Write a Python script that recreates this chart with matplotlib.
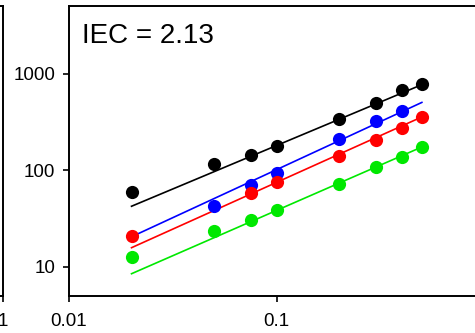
import numpy as np
import matplotlib
matplotlib.use("Agg")
import matplotlib.pyplot as plt

plt.rcParams["font.family"] = ["Liberation Sans", "DejaVu Sans"]

# concentrations (x) and responses per series
x_all = [0.02, 0.05, 0.075, 0.1, 0.2, 0.3, 0.4, 0.5]
black_x = x_all
black_y = [60, 117, 145, 177, 337, 492, 677, 787]
blue_x = [0.05, 0.075, 0.1, 0.2, 0.3, 0.4]
blue_y = [43, 71, 94, 212, 321, 406]
red_x = [0.02, 0.075, 0.1, 0.2, 0.3, 0.4, 0.5]
red_y = [20.7, 58, 75, 139, 207, 274, 356]
green_x = x_all
green_y = [12.7, 23.3, 30.3, 38.5, 72.6, 107, 137, 174]

# fitted power-law lines: value at x = 0.02 and x = 0.5
fit_x = [0.02, 0.5]
fit_black = [42.4, 768]
fit_blue = [20.5, 503]
fit_red = [15.8, 356]
fit_green = [8.5, 174]

x_ticks = [0.01, 0.1, 1]
x_ticklabels = ["0.01", "0.1", ""]   # "1" falls past the cropped right edge
y_ticks = [10, 100, 1000]
y_ticklabels = ["10", "100", "1000"]

series = [
    ("black", black_x, black_y, fit_black),
    ("#0000ff", blue_x, blue_y, fit_blue),
    ("#ff0000", red_x, red_y, fit_red),
    ("#00e800", green_x, green_y, fit_green),
]

fig = plt.figure(figsize=(4.75, 3.33), dpi=100)

W, H = 475.0, 333.0
ax_bottom = (H - 296) / H
ax_height = 290 / H


def style(ax):
    ax.set_xscale("log")
    ax.set_yscale("log")
    ax.set_xlim(0.01, 1)
    ax.set_ylim(5, 5000)
    for s in ax.spines.values():
        s.set_linewidth(1.4)
    ax.tick_params(which="major", length=4, width=1.2, labelsize=13.5)
    ax.tick_params(which="minor", length=0)
    ax.tick_params(axis="x", pad=8)
    ax.tick_params(axis="y", pad=6)


# neighbouring panel, only its right edge (and its "1" label) shows
axl = fig.add_axes([2.7 / W - 0.85, ax_bottom, 0.85, ax_height])
style(axl)
axl.set_xticks(x_ticks)
axl.set_xticklabels(["", "", "1"])
axl.set_yticks(y_ticks)
axl.set_yticklabels([])

ax = fig.add_axes([69 / W, ax_bottom, 415.4 / W, ax_height])
style(ax)
ax.set_xticks(x_ticks)
ax.set_xticklabels(x_ticklabels)
ax.set_yticks(y_ticks)
ax.set_yticklabels(y_ticklabels)

for color, xs, ys, fit in series:
    ax.plot(fit_x, fit, color=color, lw=1.2, zorder=2)
    ax.plot(xs, ys, "o", color=color, ms=9.5, mec="none", zorder=3)

ax.text(0.031, 0.873, "IEC = 2.13", transform=ax.transAxes, fontsize=20,
        ha="left", va="baseline")

fig.savefig("out.png", dpi=100)
